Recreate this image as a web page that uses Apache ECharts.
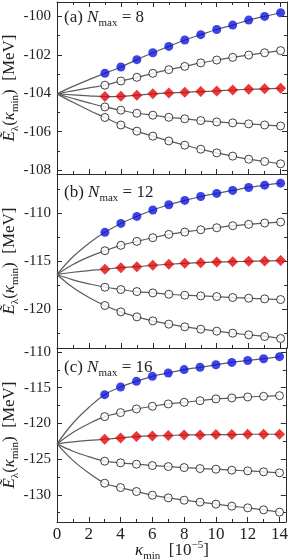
<!DOCTYPE html>
<html><head><meta charset="utf-8">
<script src="https://cdn.jsdelivr.net/npm/echarts@6/dist/echarts.min.js"></script>
<style>html,body{margin:0;padding:0;background:#fff}#c{width:291px;height:560px}</style>
</head><body><div id="c"></div>
<script>
// ---- data ----
const kappaPts = [3,4,5,6,7,8,9,10,11,12,13,14];
const kappaFit = [0,1,2]; // fit curve read at kappa = 0,1,2 (order: blue, open1, red, open2, open3)

// panel (a) Nmax = 8
const aBlue  = [-102.96,-102.63,-102.25,-101.89,-101.56,-101.23,-100.95,-100.68,-100.45,-100.19,-100.00,-99.81];
const aOpen1 = [-103.58,-103.36,-103.17,-102.96,-102.77,-102.60,-102.42,-102.27,-102.13,-102.01,-101.89,-101.78];
const aRed   = [-104.17,-104.16,-104.10,-104.03,-103.98,-103.95,-103.91,-103.88,-103.83,-103.79,-103.77,-103.74];
const aOpen2 = [-104.71,-104.88,-105.04,-105.14,-105.25,-105.33,-105.42,-105.49,-105.54,-105.59,-105.65,-105.70];
const aOpen3 = [-105.26,-105.65,-105.97,-106.23,-106.48,-106.70,-106.91,-107.10,-107.27,-107.43,-107.55,-107.67];
const aFitK0 = [-104.03,-104.03,-104.03,-104.03,-104.03];
const aFitK1 = [-103.64,-103.87,-104.08,-104.27,-104.47];
const aFitK2 = [-103.29,-103.72,-104.13,-104.50,-104.88];

// panel (b) Nmax = 12
const bBlue  = [-111.97,-111.04,-110.31,-109.65,-109.10,-108.65,-108.24,-107.92,-107.61,-107.30,-107.06,-106.85];
const bOpen1 = [-113.88,-113.32,-112.91,-112.53,-112.18,-111.94,-111.70,-111.49,-111.28,-111.14,-111.00,-110.90];
const bRed   = [-115.81,-115.64,-115.54,-115.40,-115.29,-115.19,-115.12,-115.05,-115.02,-114.98,-114.95,-114.91];
const bOpen2 = [-117.68,-117.92,-118.13,-118.27,-118.41,-118.51,-118.58,-118.65,-118.75,-118.82,-118.89,-118.96];
const bOpen3 = [-119.58,-120.24,-120.76,-121.18,-121.52,-121.80,-122.04,-122.25,-122.46,-122.63,-122.80,-123.01];
const bFitK0 = [-116.35,-116.35,-116.35,-116.35,-116.35];
const bFitK1 = [-114.51,-115.31,-116.12,-116.91,-117.71];
const bFitK2 = [-113.11,-114.52,-115.95,-117.33,-118.74];

// panel (c) Nmax = 16
const cBlue  = [-115.98,-114.91,-114.12,-113.42,-112.95,-112.47,-112.15,-111.80,-111.47,-111.20,-110.95,-110.66];
const cOpen1 = [-119.05,-118.49,-117.98,-117.61,-117.28,-117.05,-116.82,-116.58,-116.44,-116.30,-116.21,-116.12];
const cRed   = [-122.22,-122.03,-121.85,-121.75,-121.71,-121.61,-121.61,-121.57,-121.57,-121.52,-121.52,-121.52];
const cOpen2 = [-125.29,-125.52,-125.71,-125.90,-126.04,-126.18,-126.32,-126.41,-126.55,-126.64,-126.78,-126.92];
const cOpen3 = [-128.37,-128.98,-129.53,-130.05,-130.42,-130.75,-131.02,-131.30,-131.58,-131.82,-132.10,-132.42];
const cFitK0 = [-122.87,-122.87,-122.87,-122.87,-122.87];
const cFitK1 = [-119.98,-121.27,-122.60,-123.89,-125.18];
const cFitK2 = [-117.77,-120.04,-122.39,-124.66,-126.94];

// ticks
const xMajor = [0,2,4,6,8,10,12,14];
const xMinor = [1,3,5,7,9,11,13];
const xLabels = ['0','2','4','6','8','10','12','14'];
const aYMajor = [-108,-106,-104,-102,-100];
const aYMinor = [-107,-105,-103,-101];
const bYMajor = [-120,-115,-110];
const bYMinor = [-122.5,-117.5,-112.5,-107.5];
const cYMajor = [-130,-125,-120,-115,-110];
const cYMinor = [-132.5,-127.5,-122.5,-117.5,-112.5];
const panelNames = ['(a) ', '(b) ', '(c) '];
const panelNmax = ['8', '12', '16'];

// ---- layout / styling ----
const SERIF = 'Liberation Serif';
const AX = '#2a2a2a';
const panels = [
  {top: 2,   height: 172, min: -108.2, max: -99.25, major: aYMajor, minor: aYMinor,
   curves: [aBlue,aOpen1,aRed,aOpen2,aOpen3], fit: [aFitK0,aFitK1,aFitK2]},
  {top: 174, height: 174, min: -124, max: -105.9, major: bYMajor, minor: bYMinor,
   curves: [bBlue,bOpen1,bRed,bOpen2,bOpen3], fit: [bFitK0,bFitK1,bFitK2]},
  {top: 348, height: 174, min: -133.8, max: -109.45, major: cYMajor, minor: cYMinor,
   curves: [cBlue,cOpen1,cRed,cOpen2,cOpen3], fit: [cFitK0,cFitK1,cFitK2]}
];
const styles = [
  {symbol: 'circle', symbolSize: 9, itemStyle: {color: '#0b16dc'}},
  {symbol: 'circle', symbolSize: 8, itemStyle: {color: '#fff', borderColor: '#111', borderWidth: 1}},
  {symbol: 'diamond', symbolSize: 11, itemStyle: {color: '#e0080a'}},
  {symbol: 'circle', symbolSize: 8, itemStyle: {color: '#fff', borderColor: '#111', borderWidth: 1}},
  {symbol: 'circle', symbolSize: 8, itemStyle: {color: '#fff', borderColor: '#111', borderWidth: 1}}
];

const grid = [], xAxis = [], yAxis = [], series = [];
panels.forEach((p, gi) => {
  grid.push({left: 57, right: 4, top: p.top, height: p.height});
  const isLast = gi === panels.length - 1;
  const mkX = (pos, vals, len, showLine, labels) => ({
    gridIndex: gi, type: 'value', min: 0, max: 14.4, position: pos,
    axisLine: {show: showLine, onZero: false, lineStyle: {color: AX, width: 1}},
    axisTick: {show: true, inside: true, length: len, customValues: vals, lineStyle: {color: AX, width: 1}},
    axisLabel: labels ? {show: true, customValues: xMajor, formatter: v => xLabels[xMajor.indexOf(v)],
      fontFamily: SERIF, fontSize: 17, color: '#222', margin: 4} : {show: false},
    splitLine: {show: false}
  });
  const xMainIdx = xAxis.length;
  xAxis.push(mkX('bottom', xMajor, 5, true, isLast));
  xAxis.push(mkX('bottom', xMinor, 3, false, false));
  if (gi === 0) {
    xAxis.push(mkX('top', xMajor, 5, true, false));
    xAxis.push(mkX('top', xMinor, 3, false, false));
  }
  const mkY = (pos, vals, len, showLine, labels) => ({
    gridIndex: gi, type: 'value', min: p.min, max: p.max, position: pos,
    axisLine: {show: showLine, onZero: false, lineStyle: {color: AX, width: 1}},
    axisTick: {show: true, inside: true, length: len, customValues: vals, lineStyle: {color: AX, width: 1}},
    axisLabel: labels ? {show: true, customValues: p.major, formatter: v => String(v),
      fontFamily: SERIF, fontSize: 15, color: '#222', margin: 6} : {show: false},
    splitLine: {show: false}
  });
  const yMainIdx = yAxis.length;
  yAxis.push(mkY('left', p.major, 5, true, true));
  yAxis.push(mkY('left', p.minor, 3, false, false));
  yAxis.push(mkY('right', p.major, 5, true, false));
  yAxis.push(mkY('right', p.minor, 3, false, false));

  p.curves.forEach((vals, ci) => {
    const fitPts = kappaFit.map((k, j) => [k, p.fit[j][ci]]);
    const pts = kappaPts.map((k, i) => [k, vals[i]]);
    series.push({
      type: 'line', xAxisIndex: xMainIdx, yAxisIndex: yMainIdx,
      data: fitPts.concat(pts), smooth: 0.4, showSymbol: false, silent: true,
      lineStyle: {color: '#5c5c5c', width: 1.2}, z: 2
    });
    series.push(Object.assign({
      type: 'scatter', xAxisIndex: xMainIdx, yAxisIndex: yMainIdx,
      data: pts, silent: true, z: 3
    }, styles[ci]));
  });
});

const richBase = {
  r: {fontFamily: SERIF, fontSize: 17, lineHeight: 22, fill: '#222', color: '#222'},
  i: {fontFamily: SERIF, fontStyle: 'italic', fontSize: 17, lineHeight: 22, fill: '#222', color: '#222'},
  s: {fontFamily: SERIF, fontSize: 11, lineHeight: 10, verticalAlign: 'bottom', fill: '#222', color: '#222'},
  p: {fontFamily: SERIF, fontSize: 11, lineHeight: 10, verticalAlign: 'top', fill: '#222', color: '#222'}
};
const graphic = [];
const labelY = [18, 193, 368];
const titleY = [88, 261, 435];
panels.forEach((p, gi) => {
  graphic.push({
    type: 'text', x: 64, y: labelY[gi], z: 10,
    style: {text: '{r|' + panelNames[gi] + '}{i|N}{s|max}{r| = ' + panelNmax[gi] + '}', rich: richBase,
      align: 'left', verticalAlign: 'middle', textAlign: 'left', textVerticalAlign: 'middle'}
  });
  graphic.push({
    type: 'text', x: 10, y: titleY[gi], rotation: Math.PI / 2, z: 10,
    style: {text: '{i|Ẽ}{s|λ}{r|(}{i|κ}{s|min}{r|)  [MeV]}', rich: richBase,
      align: 'center', verticalAlign: 'middle', textAlign: 'center', textVerticalAlign: 'middle'}
  });
});
graphic.push({
  type: 'text', x: 172, y: 551, z: 10,
  style: {text: '{i|κ}{s|min}{r|  [10}{p|−5}{r|]}', rich: richBase,
    align: 'center', verticalAlign: 'middle', textAlign: 'center', textVerticalAlign: 'middle'}
});

const chart = echarts.init(document.getElementById('c'), null, {renderer: 'canvas'});
chart.setOption({animation: false, backgroundColor: '#fff', grid, xAxis, yAxis, series, graphic});
</script></body></html>
